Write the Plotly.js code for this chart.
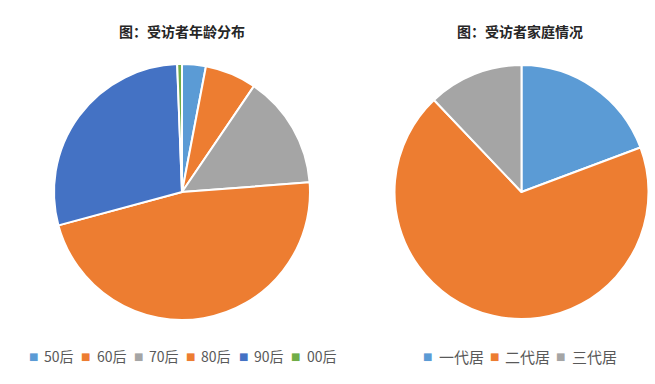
<!DOCTYPE html>
<html>
<head>
<meta charset="utf-8">
<script src="https://cdn.plot.ly/plotly-3.0.1.min.js"></script>
<style>html,body{margin:0;padding:0;background:#fff;}#chart{width:655px;height:384px;}</style>
</head>
<body>
<div id="chart"></div>
<script>
// ---- data ----
var ageLabels = ['50后', '60后', '70后', '80后', '90后', '00后'];
var ageValues = [3.0, 6.5, 14.3, 47.0, 28.6, 0.6];
var ageColors = ['#5B9BD5', '#ED7D31', '#A5A5A5', '#ED7D31', '#4472C4', '#70AD47'];

var familyLabels = ['一代居', '二代居', '三代居'];
var familyValues = [19.3, 68.6, 12.1];
var familyColors = ['#5B9BD5', '#ED7D31', '#A5A5A5'];

var leftTitle = '图：受访者年龄分布';
var rightTitle = '图：受访者家庭情况';

// ---- layout helpers ----
var W = 655, H = 384;
function px(x) { return x / W; }
function py(y) { return 1 - y / H; }
var FONT = 'Noto Sans CJK SC, Noto Sans, sans-serif';

function pieTrace(labels, values, colors, cx, cy, r) {
  return {
    type: 'pie',
    labels: labels,
    values: values,
    sort: false,
    direction: 'clockwise',
    rotation: 0,
    textinfo: 'none',
    hoverinfo: 'label+percent',
    showlegend: false,
    marker: { colors: colors, line: { color: '#ffffff', width: 2 } },
    domain: { x: [px(cx - r), px(cx + r)], y: [py(cy + r), py(cy - r)] }
  };
}

var data = [
  pieTrace(ageLabels, ageValues, ageColors, 182, 192, 128),
  pieTrace(familyLabels, familyValues, familyColors, 521.5, 192, 127)
];

var annotations = [];
function addTitle(text, cx) {
  annotations.push({
    text: '<b>' + text + '</b>', x: px(cx), y: py(31), xref: 'paper', yref: 'paper',
    xanchor: 'center', yanchor: 'middle', showarrow: false,
    font: { family: FONT, size: 14, color: '#262626' }
  });
}
addTitle(leftTitle, 181.5);
addTitle(rightTitle, 520);

function addLegend(labels, colors, x0, step, y, fontSize) {
  for (var i = 0; i < labels.length; i++) {
    var sx = x0 + i * step;
    annotations.push({
      text: '■', x: px(sx), y: py(y), xref: 'paper', yref: 'paper',
      xanchor: 'center', yanchor: 'middle', showarrow: false,
      font: { family: 'DejaVu Sans', size: 10, color: colors[i] }
    });
    annotations.push({
      text: labels[i], x: px(sx + 9), y: py(y), xref: 'paper', yref: 'paper',
      xanchor: 'left', yanchor: 'middle', showarrow: false,
      font: { family: FONT, size: fontSize, color: '#595959' }
    });
  }
}
addLegend(ageLabels, ageColors, 33, 52.5, 356, 14);
addLegend(familyLabels, familyColors, 428, 66.3, 356, 15);

var layout = {
  width: W, height: H,
  margin: { l: 0, r: 0, t: 0, b: 0 },
  paper_bgcolor: '#ffffff',
  plot_bgcolor: '#ffffff',
  showlegend: false,
  annotations: annotations,
  font: { family: FONT }
};

Plotly.newPlot('chart', data, layout, { displayModeBar: false, staticPlot: true });
</script>
</body>
</html>
